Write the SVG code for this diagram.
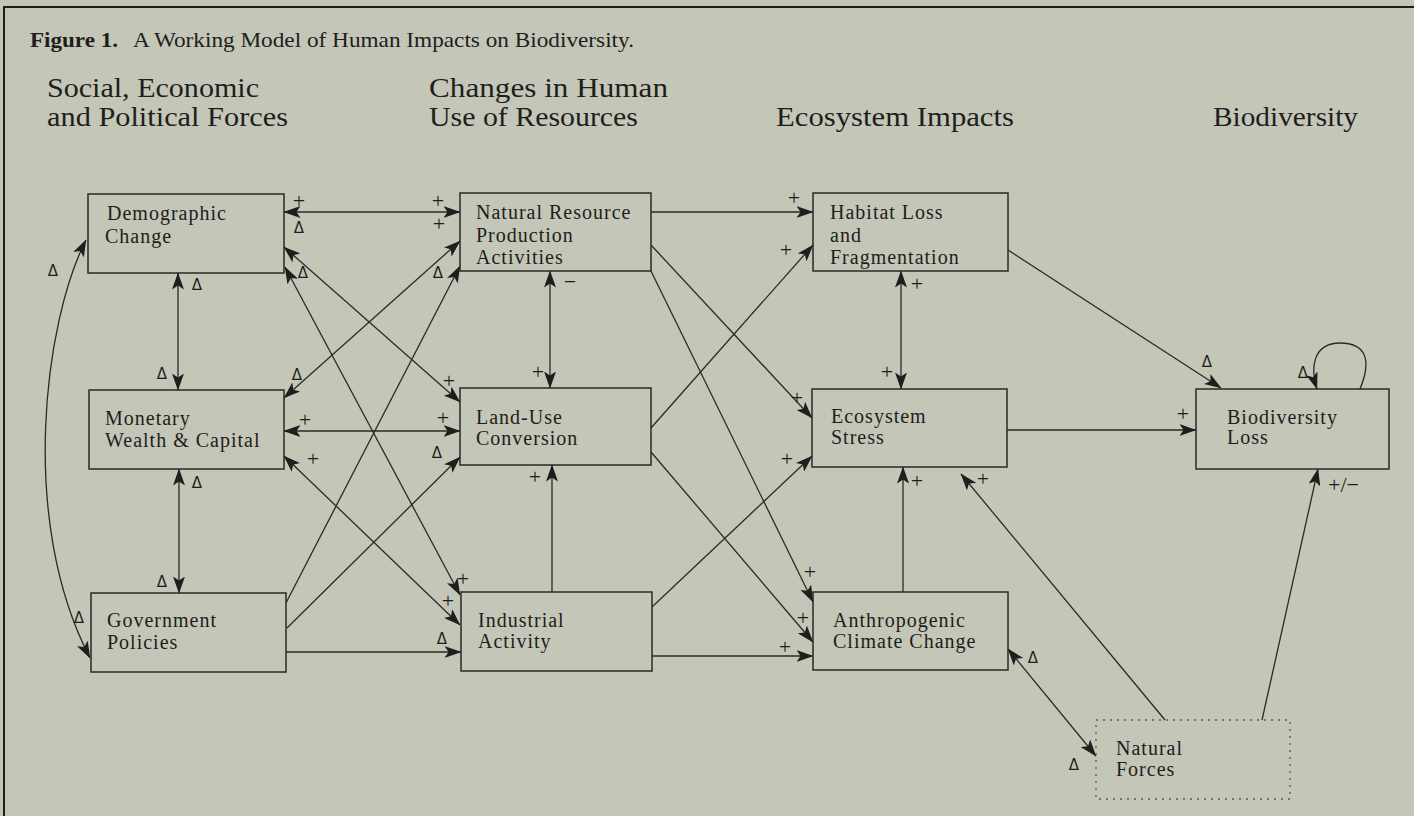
<svg xmlns="http://www.w3.org/2000/svg" width="1414" height="816" viewBox="0 0 1414 816">
<defs>
<marker id="ah" viewBox="0 0 17 12" refX="16.5" refY="6" markerWidth="17" markerHeight="12" markerUnits="userSpaceOnUse" orient="auto-start-reverse">
<path d="M0,0 L17,6 L0,12 L4,6 z" fill="#1e1e1c"/>
</marker>
<style>
.bg{fill:#c4c6b8}
.frame{stroke:#1e1e1c;stroke-width:2;fill:none}
.box{fill:none;stroke:#2a2a27;stroke-width:1.5}
.dot{fill:none;stroke:#5a5a55;stroke-width:1.3;stroke-dasharray:2,5}
.c{fill:none;stroke:#2a2a27;stroke-width:1.3}
.e{marker-end:url(#ah)}
.b{marker-start:url(#ah);marker-end:url(#ah)}
.title{font-family:"Liberation Serif",serif;font-size:22px;fill:#1e1e1c}
.hd{font-family:"Liberation Serif",serif;font-size:27px;fill:#1e1e1c}
.lbl{font-family:"Liberation Serif",serif;font-size:20px;letter-spacing:1px;fill:#1e1e1c}
.p{font-family:"Liberation Serif",serif;font-size:22px;fill:#1e1e1c;text-anchor:middle}
.d{font-family:"DejaVu Sans",sans-serif;font-size:15px;fill:#1e1e1c;text-anchor:middle}
</style>
</defs>
<rect class="bg" x="0" y="0" width="1414" height="816"/>
<path class="frame" d="M4,816 L4,7 L1414,7"/>

<g id="title">
<text class="title" x="30" y="47" font-weight="bold" textLength="88" lengthAdjust="spacingAndGlyphs">Figure 1.</text>
<text class="title" x="133" y="47" textLength="501" lengthAdjust="spacingAndGlyphs">A Working Model of Human Impacts on Biodiversity.</text>
</g>

<g id="headings">
<text class="hd" x="47" y="97" textLength="212" lengthAdjust="spacingAndGlyphs">Social, Economic</text>
<text class="hd" x="47" y="126" textLength="241" lengthAdjust="spacingAndGlyphs">and Political Forces</text>
<text class="hd" x="429" y="97" textLength="239" lengthAdjust="spacingAndGlyphs">Changes in Human</text>
<text class="hd" x="429" y="126" textLength="209" lengthAdjust="spacingAndGlyphs">Use of Resources</text>
<text class="hd" x="776" y="126" textLength="238" lengthAdjust="spacingAndGlyphs">Ecosystem Impacts</text>
<text class="hd" x="1213" y="126" textLength="145" lengthAdjust="spacingAndGlyphs">Biodiversity</text>
</g>

<g id="connectors">
<path class="c b" d="M284,212 L460,212"/>
<path class="c b" d="M178,273 L178,390"/>
<path class="c b" d="M179,469 L179,593"/>
<path class="c b" d="M86,240 C45,320 18,520 90,658"/>
<path class="c b" d="M284,431 L460,431"/>
<path class="c e" d="M286,652 L461,652"/>
<path class="c e" d="M552,592 L552,465"/>
<path class="c b" d="M550,271 L550,388"/>
<path class="c b" d="M901,271 L901,389"/>
<path class="c e" d="M903,592 L903,467"/>
<path class="c e" d="M651,212 L813,212"/>
<path class="c e" d="M652,656 L813,656"/>
<path class="c e" d="M1007,430 L1196,430"/>
<path class="c e" d="M1008,250 L1221,388"/>
<path class="c e" d="M1360,389 C1372,360 1366,343 1340,343 C1313,343 1310,368 1317,389"/>
<path class="c e" d="M1262,720 L1318,469"/>
<path class="c e" d="M1165,720 L961,474"/>
<path class="c b" d="M1008,649 L1096,756"/>
<path class="c b" d="M284,247 L460,402"/>
<path class="c b" d="M285,267 L460,595"/>
<path class="c b" d="M284,398 L460,241"/>
<path class="c e" d="M286,603 L460,266"/>
<path class="c e" d="M287,628 L460,457"/>
<path class="c b" d="M284,456 L460,625"/>
<path class="c e" d="M651,428 L813,245"/>
<path class="c e" d="M651,245 L812,418"/>
<path class="c e" d="M651,271 L813,602"/>
<path class="c e" d="M651,452 L813,642"/>
<path class="c e" d="M652,607 L812,456"/>
</g>

<g id="demographic">
<rect class="box" x="88" y="194" width="196" height="79"/>
<text class="lbl" x="107" y="220">Demographic</text>
<text class="lbl" x="105" y="243">Change</text>
</g>
<g id="monetary">
<rect class="box" x="89" y="390" width="195" height="79"/>
<text class="lbl" x="105" y="425">Monetary</text>
<text class="lbl" x="105" y="447">Wealth &amp; Capital</text>
</g>
<g id="government">
<rect class="box" x="91" y="593" width="195" height="79"/>
<text class="lbl" x="107" y="627">Government</text>
<text class="lbl" x="107" y="649">Policies</text>
</g>
<g id="natural-resource">
<rect class="box" x="460" y="193" width="191" height="78"/>
<text class="lbl" x="476" y="219">Natural Resource</text>
<text class="lbl" x="476" y="242">Production</text>
<text class="lbl" x="476" y="264">Activities</text>
</g>
<g id="land-use">
<rect class="box" x="460" y="388" width="191" height="77"/>
<text class="lbl" x="476" y="424">Land-Use</text>
<text class="lbl" x="476" y="445">Conversion</text>
</g>
<g id="industrial">
<rect class="box" x="461" y="592" width="191" height="79"/>
<text class="lbl" x="478" y="627">Industrial</text>
<text class="lbl" x="478" y="648">Activity</text>
</g>
<g id="habitat">
<rect class="box" x="813" y="193" width="195" height="78"/>
<text class="lbl" x="830" y="219">Habitat Loss</text>
<text class="lbl" x="830" y="242">and</text>
<text class="lbl" x="830" y="264">Fragmentation</text>
</g>
<g id="ecosystem">
<rect class="box" x="812" y="389" width="195" height="78"/>
<text class="lbl" x="831" y="423">Ecosystem</text>
<text class="lbl" x="831" y="444">Stress</text>
</g>
<g id="anthropogenic">
<rect class="box" x="813" y="592" width="195" height="78"/>
<text class="lbl" x="833" y="627">Anthropogenic</text>
<text class="lbl" x="833" y="648">Climate Change</text>
</g>
<g id="biodiversity">
<rect class="box" x="1196" y="389" width="193" height="80"/>
<text class="lbl" x="1227" y="424">Biodiversity</text>
<text class="lbl" x="1227" y="444">Loss</text>
</g>
<g id="natural-forces">
<rect class="dot" x="1096" y="720" width="194" height="79"/>
<text class="lbl" x="1116" y="755">Natural</text>
<text class="lbl" x="1116" y="776">Forces</text>
</g>

<g id="signs">
<text class="p" x="299" y="208">+</text>
<text class="p" x="438" y="208">+</text>
<text class="p" x="439" y="231">+</text>
<text class="d" x="299" y="233">Δ</text>
<text class="d" x="197" y="290">Δ</text>
<text class="d" x="162" y="379">Δ</text>
<text class="d" x="197" y="488">Δ</text>
<text class="d" x="162" y="587">Δ</text>
<text class="d" x="53" y="276">Δ</text>
<text class="d" x="79" y="623">Δ</text>
<text class="d" x="303" y="278">Δ</text>
<text class="d" x="438" y="278">Δ</text>
<text class="d" x="297" y="380">Δ</text>
<text class="p" x="449" y="388">+</text>
<text class="p" x="305" y="427">+</text>
<text class="p" x="443" y="425">+</text>
<text class="d" x="437" y="458">Δ</text>
<text class="p" x="313" y="466">+</text>
<text class="p" x="463" y="586">+</text>
<text class="p" x="448" y="608">+</text>
<text class="d" x="442" y="644">Δ</text>
<text class="p" x="570" y="289">−</text>
<text class="p" x="538" y="379">+</text>
<text class="p" x="535" y="484">+</text>
<text class="p" x="794" y="205">+</text>
<text class="p" x="786" y="257">+</text>
<text class="p" x="797" y="405">+</text>
<text class="p" x="917" y="291">+</text>
<text class="p" x="887" y="379">+</text>
<text class="p" x="787" y="466">+</text>
<text class="p" x="917" y="488">+</text>
<text class="p" x="983" y="486">+</text>
<text class="p" x="810" y="579">+</text>
<text class="p" x="803" y="625">+</text>
<text class="p" x="785" y="654">+</text>
<text class="d" x="1033" y="663">Δ</text>
<text class="d" x="1074" y="770">Δ</text>
<text class="p" x="1183" y="421">+</text>
<text class="d" x="1207" y="367">Δ</text>
<text class="d" x="1303" y="378">Δ</text>
<text class="p" x="1328" y="492" style="text-anchor:start">+/−</text>
</g>
</svg>
